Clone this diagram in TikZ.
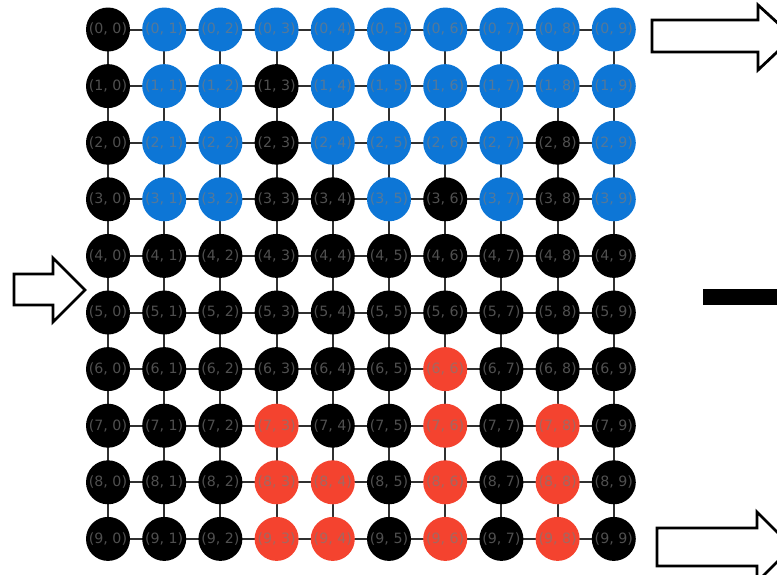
\documentclass[tikz,border=0pt]{standalone}
\usepackage{fontspec}
\newfontfamily\lblfont{DejaVu Sans}
\definecolor{b}{HTML}{0D76D6}
\definecolor{r}{HTML}{F4432F}
\definecolor{k}{HTML}{000000}
\definecolor{edgec}{HTML}{303030}
\definecolor{lblc}{HTML}{7A7A7A}
\tikzset{
  gnode/.style={circle,minimum size=44pt,inner sep=0pt,font=\lblfont\fontsize{14.2}{15}\selectfont,text=lblc,text opacity=0.65},
  gedge/.style={draw=edgec,line width=2pt},
  bigarrow/.style={draw=black,fill=white,line width=2.8pt,line join=miter}
}
\begin{document}
\begin{tikzpicture}[x=1pt,y=-1pt]
\useasboundingbox (0,0) rectangle (777,574);
\clip (0,0) rectangle (777,574);
\foreach \i in {0,...,9}{
  \foreach \j in {0,...,9}{
    \coordinate (c-\i-\j) at ({108+56.2*\j},{29.5+56.6*\i});
  }
}
\foreach \i in {0,...,9}{
  \foreach \j [evaluate=\j as \jn using int(\j+1)] in {0,...,8}{
    \draw[gedge] (c-\i-\j) -- (c-\i-\jn);
    \draw[gedge] (c-\j-\i) -- (c-\jn-\i);
  }
}
\foreach \i/\row in {0/{k,b,b,b,b,b,b,b,b,b},1/{k,b,b,k,b,b,b,b,b,b},2/{k,b,b,k,b,b,b,b,k,b},3/{k,b,b,k,k,b,k,b,k,b},4/{k,k,k,k,k,k,k,k,k,k},5/{k,k,k,k,k,k,k,k,k,k},6/{k,k,k,k,k,k,r,k,k,k},7/{k,k,k,r,k,k,r,k,r,k},8/{k,k,k,r,r,k,r,k,r,k},9/{k,k,k,r,r,k,r,k,r,k}}{
  \foreach \c [count=\jj from 0] in \row{
    \node[gnode,fill=\c] (n-\i-\jj) at (c-\i-\jj) {(\i, \jj)};
  }
}
\draw[bigarrow] (652,20) -- (758,20) -- (758,5) -- (793,37) -- (758,70) -- (758,52) -- (652,52) -- cycle;
\draw[bigarrow] (657,528) -- (757,528) -- (757,512) -- (792,547) -- (757,582) -- (757,566) -- (657,566) -- cycle;
\draw[bigarrow] (14,274) -- (53,274) -- (53,258) -- (85,290) -- (53,322) -- (53,305) -- (14,305) -- cycle;
\fill[black] (703,289) rectangle (790,305);
\end{tikzpicture}
\end{document}
